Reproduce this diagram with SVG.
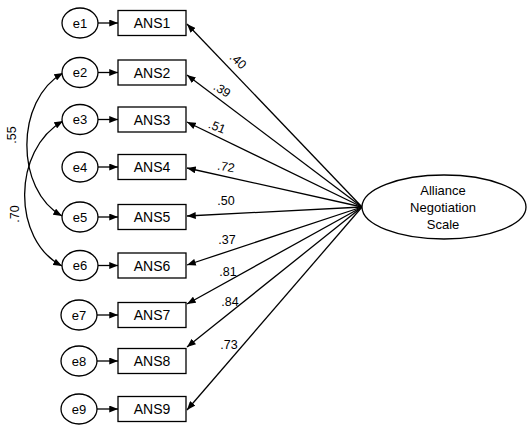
<svg xmlns="http://www.w3.org/2000/svg" width="527" height="427" viewBox="0 0 527 427">
<style>
.box{fill:#fff;stroke:#000;stroke-width:1.3}
.ell{fill:#fff;stroke:#000;stroke-width:1.3}
.t{font-family:"Liberation Sans",Arial,sans-serif;font-size:14px;fill:#000;text-anchor:middle;dominant-baseline:central}
.et{font-family:"Liberation Sans",Arial,sans-serif;font-size:13px;fill:#000;text-anchor:middle;dominant-baseline:central}
.lb{font-family:"Liberation Sans",Arial,sans-serif;font-size:12.5px;fill:#000;text-anchor:middle;dominant-baseline:central}
.c{fill:none;stroke:#000;stroke-width:1.3}
</style>
<defs>
<marker id="ah" viewBox="0 0 10 8" refX="10" refY="4" markerWidth="9" markerHeight="7" markerUnits="userSpaceOnUse" orient="auto-start-reverse">
<path d="M0,0 L10,4 L0,8 Z" fill="#000"/>
</marker>
</defs>
<g id="connectors">
<line class="c" x1="98" y1="23" x2="118" y2="23" marker-end="url(#ah)"/>
<line class="c" x1="98" y1="72.5" x2="118" y2="72.5" marker-end="url(#ah)"/>
<line class="c" x1="98" y1="119.5" x2="118" y2="119.5" marker-end="url(#ah)"/>
<line class="c" x1="98" y1="167" x2="118" y2="167" marker-end="url(#ah)"/>
<line class="c" x1="98" y1="217" x2="118" y2="217" marker-end="url(#ah)"/>
<line class="c" x1="98" y1="265.5" x2="118" y2="265.5" marker-end="url(#ah)"/>
<line class="c" x1="97" y1="315" x2="118" y2="315" marker-end="url(#ah)"/>
<line class="c" x1="97" y1="361" x2="118" y2="361" marker-end="url(#ah)"/>
<line class="c" x1="97" y1="409" x2="118" y2="409" marker-end="url(#ah)"/>
<line class="c" x1="362" y1="207" x2="187" y2="24" marker-end="url(#ah)"/>
<line class="c" x1="362" y1="207" x2="187" y2="75" marker-end="url(#ah)"/>
<line class="c" x1="362" y1="207" x2="187" y2="122" marker-end="url(#ah)"/>
<line class="c" x1="362" y1="207" x2="187" y2="168" marker-end="url(#ah)"/>
<line class="c" x1="362" y1="207" x2="187" y2="216" marker-end="url(#ah)"/>
<line class="c" x1="362" y1="207" x2="187" y2="265" marker-end="url(#ah)"/>
<line class="c" x1="362" y1="207" x2="187" y2="304" marker-end="url(#ah)"/>
<line class="c" x1="362" y1="207" x2="187" y2="347" marker-end="url(#ah)"/>
<line class="c" x1="362" y1="207" x2="187" y2="410" marker-end="url(#ah)"/>
<path class="c" d="M63,73 C15,100 15,190 62,216" marker-start="url(#ah)" marker-end="url(#ah)"/>
<path class="c" d="M63,121 C12,150 12,240 62,266" marker-start="url(#ah)" marker-end="url(#ah)"/>
<text class="lb" transform="translate(238,61) rotate(42)">.40</text>
<text class="lb" transform="translate(222,90) rotate(32)">.39</text>
<text class="lb" transform="translate(217,127) rotate(22)">.51</text>
<text class="lb" transform="translate(226,167) rotate(10)">.72</text>
<text class="lb" x="226" y="201">.50</text>
<text class="lb" x="227" y="240">.37</text>
<text class="lb" x="228" y="272">.81</text>
<text class="lb" x="230" y="302">.84</text>
<text class="lb" x="229" y="345">.73</text>
<text class="lb" transform="translate(12,135) rotate(-90)">.55</text>
<text class="lb" transform="translate(15,214) rotate(-90)">.70</text>
</g>
<g id="e1"><ellipse class="ell" cx="80" cy="23" rx="18" ry="15"/><text class="et" x="80" y="23">e1</text></g>
<g id="e2"><ellipse class="ell" cx="80" cy="72.5" rx="18" ry="15"/><text class="et" x="80" y="72.5">e2</text></g>
<g id="e3"><ellipse class="ell" cx="80" cy="119.5" rx="18" ry="15"/><text class="et" x="80" y="119.5">e3</text></g>
<g id="e4"><ellipse class="ell" cx="80" cy="167" rx="18" ry="15"/><text class="et" x="80" y="167">e4</text></g>
<g id="e5"><ellipse class="ell" cx="80" cy="217" rx="18" ry="15"/><text class="et" x="80" y="217">e5</text></g>
<g id="e6"><ellipse class="ell" cx="80" cy="265.5" rx="18" ry="15"/><text class="et" x="80" y="265.5">e6</text></g>
<g id="e7"><ellipse class="ell" cx="79" cy="315" rx="18" ry="15"/><text class="et" x="79" y="315">e7</text></g>
<g id="e8"><ellipse class="ell" cx="79" cy="361" rx="18" ry="15"/><text class="et" x="79" y="361">e8</text></g>
<g id="e9"><ellipse class="ell" cx="79" cy="409" rx="18" ry="15"/><text class="et" x="79" y="409">e9</text></g>
<g id="ANS1"><rect class="box" x="118" y="10.5" width="68" height="25"/><text class="t" x="152" y="23">ANS1</text></g>
<g id="ANS2"><rect class="box" x="118" y="60" width="68" height="25"/><text class="t" x="152" y="72.5">ANS2</text></g>
<g id="ANS3"><rect class="box" x="118" y="107" width="68" height="25"/><text class="t" x="152" y="119.5">ANS3</text></g>
<g id="ANS4"><rect class="box" x="118" y="154.5" width="68" height="25"/><text class="t" x="152" y="167">ANS4</text></g>
<g id="ANS5"><rect class="box" x="118" y="204.5" width="68" height="25"/><text class="t" x="152" y="217">ANS5</text></g>
<g id="ANS6"><rect class="box" x="118" y="253" width="68" height="25"/><text class="t" x="152" y="265.5">ANS6</text></g>
<g id="ANS7"><rect class="box" x="118" y="302.5" width="68" height="25"/><text class="t" x="152" y="315">ANS7</text></g>
<g id="ANS8"><rect class="box" x="118" y="348.5" width="68" height="25"/><text class="t" x="152" y="361">ANS8</text></g>
<g id="ANS9"><rect class="box" x="118" y="396.5" width="68" height="25"/><text class="t" x="152" y="409">ANS9</text></g>
<g id="AllianceNegotiationScale"><ellipse class="ell" cx="444" cy="207" rx="82" ry="32"/>
<text class="et" x="443" y="190">Alliance</text>
<text class="et" x="443" y="207">Negotiation</text>
<text class="et" x="443" y="224">Scale</text></g>
</svg>
